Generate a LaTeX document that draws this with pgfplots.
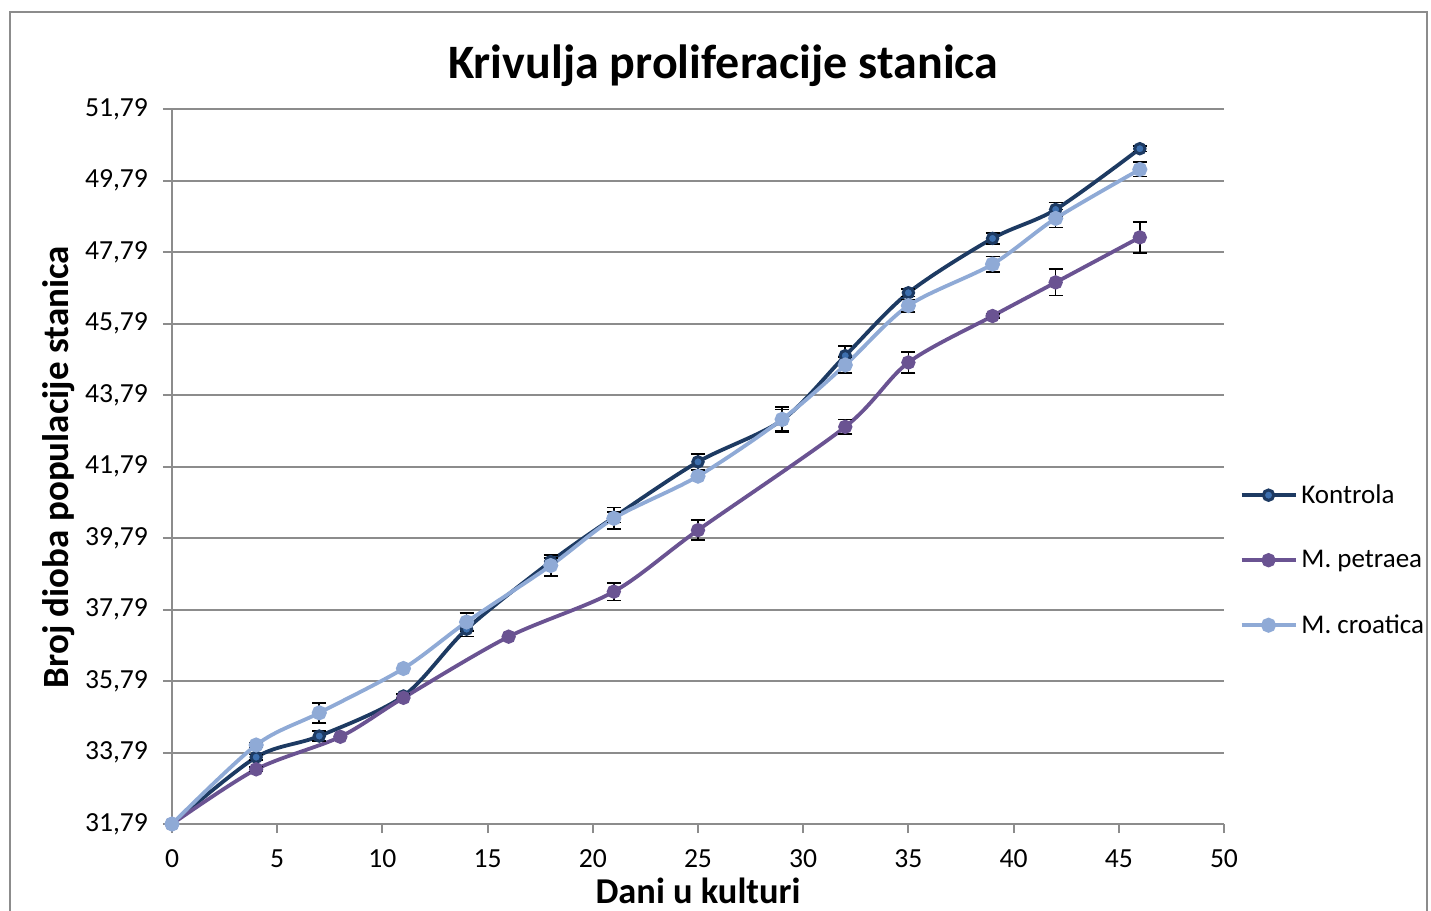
\documentclass[border=0pt]{standalone}
\usepackage{pgfplots}
\usepackage{pgfplotstable}
\pgfplotsset{compat=1.18}
\usepackage{fontspec}
\setmainfont{Carlito}
\definecolor{kon}{HTML}{1D3A62}
\definecolor{konfill}{HTML}{3D6FAE}
\definecolor{pet}{HTML}{6A5392}
\definecolor{cro}{HTML}{8FAAD6}
\definecolor{gridc}{HTML}{8C8C8C}

\pgfplotstableread{
x y e
0 31.79 0
4 33.66 0.08
7 34.25 0.14
11 35.37 0.06
14 37.24 0.2
18 39.13 0.1
21 40.37 0.15
25 41.92 0.22
29 43.09 0.3
32 44.89 0.27
35 46.65 0.1
39 48.17 0.15
42 48.98 0.2
46 50.68 0.08
}\kontrola
\pgfplotstableread{
x y e
0 31.79 0
4 33.32 0.06
8 34.23 0
11 35.32 0.05
16 37.03 0
21 38.29 0.25
25 40.01 0.28
32 42.90 0.2
35 44.70 0.3
39 46.00 0.05
42 46.94 0.37
46 48.20 0.43
}\petraea
\pgfplotstableread{
x y e
0 31.79 0
4 34.00 0.06
7 34.90 0.28
11 36.14 0.03
14 37.44 0.25
18 39.02 0.3
21 40.34 0.3
25 41.52 0.05
29 43.11 0.35
32 44.63 0.23
35 46.29 0.17
39 47.45 0.22
42 48.73 0.25
46 50.10 0.2
}\croatica
% error-bar subsets (points with visible bars)
\pgfplotstableread{
x y e
4 33.66 0.08
7 34.25 0.14
11 35.37 0.06
14 37.24 0.2
18 39.13 0.1
21 40.37 0.15
25 41.92 0.22
29 43.09 0.3
32 44.89 0.27
35 46.65 0.1
39 48.17 0.15
42 48.98 0.2
46 50.68 0.08
}\kontrolaE
\pgfplotstableread{
x y e
4 33.32 0.06
21 38.29 0.25
25 40.01 0.28
32 42.90 0.2
35 44.70 0.3
39 46.00 0.05
42 46.94 0.37
46 48.20 0.43
}\petraeaE
\pgfplotstableread{
x y e
4 34.00 0.06
7 34.90 0.28
14 37.44 0.25
18 39.02 0.3
21 40.34 0.3
29 43.11 0.35
32 44.63 0.23
35 46.29 0.17
39 47.45 0.22
42 48.73 0.25
46 50.10 0.2
}\croaticaE

\begin{document}
\begin{tikzpicture}
\useasboundingbox (0,0) rectangle (715.5pt,-455.5pt);
\draw[gridc, line width=0.9pt] (5pt,-460pt) -- (5pt,-6pt) -- (713.5pt,-6pt) -- (713.5pt,-460pt);
\begin{axis}[
  at={(86pt,-412pt)}, anchor=south west,
  scale only axis, width=526pt, height=357.5pt,
  xmin=0, xmax=50, ymin=31.79, ymax=51.79,
  axis x line*=bottom, axis y line*=left,
  axis line style={gridc, line width=1pt, -},
  xtick={0,5,10,15,20,25,30,35,40,45,50},
  xticklabels={0,5,10,15,20,25,30,35,40,45,50},
  ytick={31.79,33.79,35.79,37.79,39.79,41.79,43.79,45.79,47.79,49.79,51.79},
  yticklabels={{31,79},{33,79},{35,79},{37,79},{39,79},{41,79},{43,79},{45,79},{47,79},{49,79},{51,79}},
  tick align=outside, major tick length=4.5pt,
  tick style={gridc, line width=1pt},
  ymajorgrids, major grid style={gridc, line width=1pt},
  ticklabel style={font=\fontsize{13.8pt}{16pt}\selectfont, black},
  xticklabel style={yshift=-5pt},
  yticklabel style={xshift=-4pt},
  title={\textbf{Krivulja proliferacije stanica}},
  title style={font=\fontsize{24pt}{28pt}\selectfont, at={(axis description cs:0.524,1.044)}, anchor=center},
  xlabel={\textbf{Dani u kulturi}},
  xlabel style={font=\fontsize{18.2pt}{21pt}\selectfont, at={(axis description cs:0.5,-0.094)}, anchor=center},
  ylabel={\textbf{Broj dioba populacije stanica}},
  ylabel style={font=\fontsize{18.5pt}{21pt}\selectfont, at={(axis description cs:-0.108,0.499)}, anchor=center, rotate=0},
  legend style={draw=none, fill=none, at={(axis description cs:1.0145,0.369)}, anchor=west,
    font=\fontsize{13.5pt}{15pt}\selectfont, row sep=18pt, inner sep=0pt},
  legend cell align=left,
  legend image code/.code={\draw[mark repeat=2,mark phase=2,#1] plot coordinates {(0pt,0pt) (13.5pt,0pt) (27pt,0pt)};},
]
\addplot[kon, line width=1.9pt, smooth, mark=*, mark size=2.6pt, mark options={draw=kon, fill=konfill, line width=1.5pt}] table[x=x,y=y] {\kontrola};
\addlegendentry{Kontrola}
\addplot[pet, line width=1.9pt, smooth, mark=*, mark size=2.6pt, mark options={draw=pet, fill=pet}] table[x=x,y=y] {\petraea};
\addlegendentry{M. petraea}
\addplot[cro, line width=1.9pt, smooth, mark=*, mark size=2.8pt, mark options={draw=cro, fill=cro}] table[x=x,y=y] {\croatica};
\addlegendentry{M. croatica}
\addplot[forget plot, draw=none, mark=none, error bars/.cd, y dir=both, y explicit, error bar style={black, line width=0.8pt}, error mark options={black, line width=0.8pt, mark size=3.5pt, rotate=90}] table[x=x,y=y,y error=e] {\kontrolaE};
\addplot[forget plot, draw=none, mark=none, error bars/.cd, y dir=both, y explicit, error bar style={black, line width=0.8pt}, error mark options={black, line width=0.8pt, mark size=3.5pt, rotate=90}] table[x=x,y=y,y error=e] {\petraeaE};
\addplot[forget plot, draw=none, mark=none, error bars/.cd, y dir=both, y explicit, error bar style={black, line width=0.8pt}, error mark options={black, line width=0.8pt, mark size=3.5pt, rotate=90}] table[x=x,y=y,y error=e] {\croaticaE};
\end{axis}
\end{tikzpicture}
\end{document}
